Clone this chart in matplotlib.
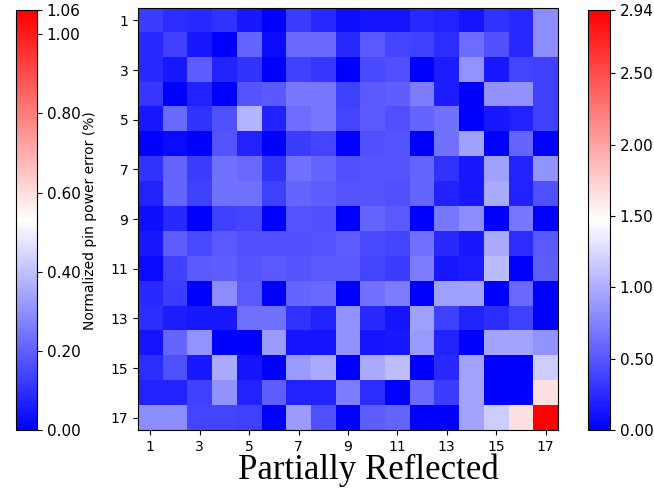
import matplotlib
matplotlib.use('Agg')
import matplotlib.pyplot as plt
import numpy as np
from matplotlib.colors import Normalize
from matplotlib.cm import ScalarMappable

# pin power error map, 17x17 assembly (row 1 at top)
pin_error = np.array([
    [0.35, 0.26, 0.23, 0.29, 0.14, 0.00, 0.35, 0.23, 0.09, 0.12, 0.12, 0.23, 0.20, 0.12, 0.29, 0.23, 0.81],
    [0.23, 0.37, 0.14, 0.00, 0.58, 0.06, 0.61, 0.61, 0.23, 0.52, 0.40, 0.37, 0.26, 0.63, 0.46, 0.23, 0.81],
    [0.23, 0.14, 0.55, 0.20, 0.29, 0.00, 0.37, 0.32, 0.00, 0.43, 0.46, 0.00, 0.17, 0.86, 0.14, 0.40, 0.37],
    [0.32, 0.00, 0.20, 0.00, 0.49, 0.52, 0.69, 0.69, 0.37, 0.52, 0.55, 0.72, 0.17, 0.00, 0.84, 0.84, 0.37],
    [0.14, 0.61, 0.29, 0.46, 1.04, 0.20, 0.63, 0.69, 0.40, 0.52, 0.46, 0.58, 0.66, 0.00, 0.14, 0.20, 0.37],
    [0.00, 0.06, 0.00, 0.49, 0.20, 0.00, 0.35, 0.40, 0.00, 0.46, 0.49, 0.00, 0.66, 0.92, 0.00, 0.58, 0.00],
    [0.29, 0.58, 0.35, 0.66, 0.61, 0.29, 0.66, 0.58, 0.46, 0.49, 0.49, 0.58, 0.29, 0.14, 0.92, 0.20, 0.86],
    [0.20, 0.58, 0.37, 0.66, 0.66, 0.37, 0.58, 0.55, 0.49, 0.49, 0.46, 0.58, 0.20, 0.14, 0.98, 0.20, 0.46],
    [0.09, 0.23, 0.00, 0.37, 0.40, 0.00, 0.49, 0.46, 0.00, 0.58, 0.52, 0.00, 0.69, 0.81, 0.00, 0.69, 0.00],
    [0.14, 0.55, 0.43, 0.52, 0.46, 0.46, 0.46, 0.49, 0.55, 0.43, 0.40, 0.66, 0.23, 0.14, 0.98, 0.26, 0.52],
    [0.06, 0.37, 0.52, 0.55, 0.49, 0.52, 0.49, 0.52, 0.52, 0.40, 0.35, 0.72, 0.14, 0.17, 1.07, 0.00, 0.55],
    [0.23, 0.35, 0.00, 0.81, 0.52, 0.00, 0.58, 0.61, 0.00, 0.66, 0.72, 0.00, 0.92, 0.92, 0.00, 0.61, 0.00],
    [0.26, 0.17, 0.14, 0.14, 0.66, 0.66, 0.29, 0.20, 0.84, 0.23, 0.12, 0.92, 0.37, 0.20, 0.26, 0.37, 0.00],
    [0.12, 0.58, 0.86, 0.00, 0.00, 0.89, 0.12, 0.12, 0.84, 0.12, 0.14, 0.89, 0.20, 0.00, 0.95, 0.95, 0.86],
    [0.26, 0.46, 0.14, 0.98, 0.12, 0.00, 0.89, 0.98, 0.00, 0.98, 1.10, 0.00, 0.23, 0.95, 0.00, 0.00, 1.18],
    [0.20, 0.20, 0.37, 0.84, 0.20, 0.55, 0.20, 0.20, 0.72, 0.26, 0.00, 0.61, 0.35, 0.95, 0.00, 0.00, 1.65],
    [0.81, 0.81, 0.40, 0.40, 0.37, 0.00, 0.89, 0.46, 0.00, 0.55, 0.58, 0.00, 0.00, 0.95, 1.18, 1.65, 2.94],
])
pin_ticks = [1, 3, 5, 7, 9, 11, 13, 15, 17]

left_max = 1.06
left_ticks = [0.0, 0.2, 0.4, 0.6, 0.8, 1.0, 1.06]
right_max = 2.94
right_ticks = [0.0, 0.5, 1.0, 1.5, 2.0, 2.5, 2.94]

cbar_label = 'Normalized pin power error (%)'

############
# plotting #
############
fig = plt.figure(figsize=(6.54, 4.95), dpi=100)

ax = fig.add_axes([0.211, 0.131, 0.642, 0.853])
n = pin_error.shape[0]
ax.imshow(pin_error, cmap='bwr', vmin=0, vmax=right_max, aspect='auto',
          interpolation='nearest', extent=(0.5, n + 0.5, n + 0.5, 0.5))
ax.set_xticks(pin_ticks)
ax.set_yticks(pin_ticks)
ax.tick_params(labelsize=10)

# left colorbar
cax_l = fig.add_axes([0.0245, 0.131, 0.032, 0.848])
sm_l = ScalarMappable(norm=Normalize(0, left_max), cmap='bwr')
cb_l = fig.colorbar(sm_l, cax=cax_l, ticks=left_ticks, format='%.2f')
cb_l.set_label(cbar_label, fontsize=10, labelpad=2)
cb_l.ax.tick_params(labelsize=11)

# right colorbar (its label runs off the right edge)
cax_r = fig.add_axes([0.899, 0.131, 0.0336, 0.848])
sm_r = ScalarMappable(norm=Normalize(0, right_max), cmap='bwr')
cb_r = fig.colorbar(sm_r, cax=cax_r, ticks=right_ticks, format='%.2f')
cb_r.set_label(cbar_label, fontsize=10)
cb_r.ax.tick_params(labelsize=11)

fig.text(0.5635, 0.05, 'Partially Reflected', ha='center', va='center',
         fontsize=25, family='Liberation Serif')

plt.savefig('out.png', dpi=100)
plt.close('all')
